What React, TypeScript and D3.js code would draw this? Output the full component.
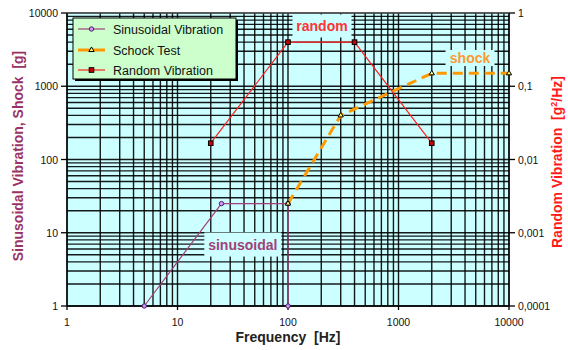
import { useRef, useEffect } from 'react';
import * as d3 from 'd3';

// Frequency [Hz] vs. amplitude
const sineFreq = [5, 25, 100, 100];
const sineG = [1, 25, 25, 1];

const shockFreq = [100, 300, 2000, 10000];
const shockG = [25, 400, 1500, 1500];

const randomFreq = [20, 100, 400, 2000];
const randomPsd = [0.0167, 0.4, 0.4, 0.0167];

const xTicks = [1, 10, 100, 1000, 10000];
const leftTicks = [1, 10, 100, 1000, 10000];
const rightTicks = [0.0001, 0.001, 0.01, 0.1, 1];
const rightTickLabels = ['0,0001', '0,001', '0,01', '0,1', '1'];

const legendNames = ['Sinusoidal Vibration', 'Schock Test', 'Random Vibration'];

const W = 568;
const H = 350;
const FONT = 'Arial, "Liberation Sans", Helvetica, sans-serif';

export default function App() {
  const svgRef = useRef<SVGSVGElement>(null);

  useEffect(() => {
    if (!svgRef.current) return;
    const svg = d3.select(svgRef.current);
    svg.selectAll('*').remove();

    const margin = { top: 13, right: 59, bottom: 44, left: 67 };
    const x = d3.scaleLog().domain([1, 10000]).range([margin.left, W - margin.right]);
    const yL = d3.scaleLog().domain([1, 10000]).range([H - margin.bottom, margin.top]);
    const yR = d3.scaleLog().domain([0.0001, 1]).range([H - margin.bottom, margin.top]);
    const [x0, x1] = x.range();
    const [y0, y1] = yL.range();

    // plot background
    svg.append('rect')
      .attr('x', x0).attr('y', y1)
      .attr('width', x1 - x0).attr('height', y0 - y1)
      .attr('fill', '#ccffff');

    // grid (log minor lines, all dark)
    const grid = svg.append('g')
      .attr('stroke', '#000')
      .attr('stroke-width', 1.4)
      .attr('stroke-opacity', 0.9);
    const minors: number[] = [];
    for (let d = 1; d < 10000; d *= 10) {
      for (let k = 1; k < 10; k++) minors.push(d * k);
    }
    minors.push(10000);
    minors.forEach(v => {
      grid.append('line')
        .attr('x1', x(v)).attr('x2', x(v))
        .attr('y1', y1).attr('y2', y0);
      grid.append('line')
        .attr('x1', x0).attr('x2', x1)
        .attr('y1', yL(v)).attr('y2', yL(v));
    });

    // annotation boxes
    const notes = [
      { text: 'random', freq: 203, g: 6650, w: 59, h: 23, color: '#ff3333' },
      { text: 'shock', freq: 4440, g: 2430, w: 49, h: 16, color: '#ff9933' },
      { text: 'sinusoidal', freq: 39, g: 6.9, w: 77, h: 24, color: '#a0407a' },
    ];
    notes.forEach(n => {
      const cx = x(n.freq);
      const cy = yL(n.g);
      svg.append('rect')
        .attr('x', cx - n.w / 2).attr('y', cy - n.h / 2)
        .attr('width', n.w).attr('height', n.h)
        .attr('fill', '#ccffff');
      svg.append('text')
        .attr('x', cx).attr('y', cy + 5)
        .attr('text-anchor', 'middle')
        .style('font', `bold 14px ${FONT}`)
        .attr('fill', n.color)
        .text(n.text);
    });

    // axes
    const axisColor = '#000';
    svg.append('line')
      .attr('x1', x0).attr('x2', x0).attr('y1', y1).attr('y2', y0)
      .attr('stroke', axisColor).attr('stroke-width', 1.3);
    svg.append('line')
      .attr('x1', x1).attr('x2', x1).attr('y1', y1).attr('y2', y0)
      .attr('stroke', axisColor).attr('stroke-width', 1.3);
    svg.append('line')
      .attr('x1', x0).attr('x2', x1).attr('y1', y0).attr('y2', y0)
      .attr('stroke', axisColor).attr('stroke-width', 1.3);
    svg.append('line')
      .attr('x1', x0).attr('x2', x1).attr('y1', y1).attr('y2', y1)
      .attr('stroke', '#666').attr('stroke-width', 1);

    const tickFont = `10.5px ${FONT}`;
    xTicks.forEach(v => {
      svg.append('line')
        .attr('x1', x(v)).attr('x2', x(v)).attr('y1', y0).attr('y2', y0 + 4)
        .attr('stroke', axisColor).attr('stroke-width', 1.3);
      svg.append('text')
        .attr('x', x(v)).attr('y', y0 + 20)
        .attr('text-anchor', 'middle')
        .style('font', tickFont).attr('fill', '#111')
        .text(String(v));
    });
    leftTicks.forEach(v => {
      svg.append('line')
        .attr('x1', x0 - 6).attr('x2', x0).attr('y1', yL(v)).attr('y2', yL(v))
        .attr('stroke', axisColor).attr('stroke-width', 1.3);
      svg.append('text')
        .attr('x', x0 - 9).attr('y', yL(v) + 4)
        .attr('text-anchor', 'end')
        .style('font', tickFont).attr('fill', '#111')
        .text(String(v));
    });
    rightTicks.forEach((v, i) => {
      svg.append('line')
        .attr('x1', x1).attr('x2', x1 + 6).attr('y1', yR(v)).attr('y2', yR(v))
        .attr('stroke', axisColor).attr('stroke-width', 1.3);
      svg.append('text')
        .attr('x', x1 + 9).attr('y', yR(v) + 4)
        .attr('text-anchor', 'start')
        .style('font', tickFont).attr('fill', '#111')
        .text(rightTickLabels[i]);
    });

    // axis titles
    svg.append('text')
      .attr('x', (x0 + x1) / 2).attr('y', 342)
      .attr('text-anchor', 'middle')
      .style('font', `bold 14px ${FONT}`).attr('fill', '#222')
      .attr('xml:space', 'preserve')
      .text('Frequency  [Hz]');
    svg.append('text')
      .attr('transform', `translate(23,156) rotate(-90)`)
      .attr('text-anchor', 'middle')
      .style('font', `bold 14px ${FONT}`).attr('fill', '#993366')
      .attr('xml:space', 'preserve')
      .text('Sinusoidal Vibration, Shock  [g]');
    const rt = svg.append('text')
      .attr('transform', `translate(562,162) rotate(-90)`)
      .attr('text-anchor', 'middle')
      .style('font', `bold 14px ${FONT}`).attr('fill', '#ff1a1a')
      .attr('xml:space', 'preserve');
    rt.append('tspan').text('Random Vibration  [g');
    rt.append('tspan').attr('dy', -5).style('font-size', '9px').text('2');
    rt.append('tspan').attr('dy', 5).text('/Hz]');

    // series
    const lineL = d3.line<[number, number]>().x(d => x(d[0])).y(d => yL(d[1]));
    const lineR = d3.line<[number, number]>().x(d => x(d[0])).y(d => yR(d[1]));
    const sinePts = sineFreq.map((f, i) => [f, sineG[i]] as [number, number]);
    const shockPts = shockFreq.map((f, i) => [f, shockG[i]] as [number, number]);
    const randomPts = randomFreq.map((f, i) => [f, randomPsd[i]] as [number, number]);

    svg.append('path')
      .attr('d', lineL(sinePts))
      .attr('fill', 'none').attr('stroke', '#a0407a').attr('stroke-width', 1.2);
    svg.append('path')
      .attr('d', lineR(randomPts))
      .attr('fill', 'none').attr('stroke', '#ff2020').attr('stroke-width', 1.2);
    svg.append('path')
      .attr('d', lineL(shockPts))
      .attr('fill', 'none').attr('stroke', '#ff9900').attr('stroke-width', 3)
      .attr('stroke-dasharray', '10,6');

    const circle = (g: any, cx: number, cy: number) =>
      g.append('circle').attr('cx', cx).attr('cy', cy).attr('r', 2.2)
        .attr('fill', '#cc99ff').attr('stroke', '#4b2060').attr('stroke-width', 1);
    const square = (g: any, cx: number, cy: number) =>
      g.append('rect').attr('x', cx - 2.3).attr('y', cy - 2.3).attr('width', 4.6).attr('height', 4.6)
        .attr('fill', '#cc0000').attr('stroke', '#000').attr('stroke-width', 1);
    const triangle = (g: any, cx: number, cy: number) =>
      g.append('path')
        .attr('d', d3.symbol().type(d3.symbolTriangle).size(12)())
        .attr('transform', `translate(${cx},${cy})`)
        .attr('fill', '#ffff66').attr('stroke', '#000').attr('stroke-width', 1);

    sinePts.forEach(p => circle(svg, x(p[0]), yL(p[1])));
    randomPts.forEach(p => square(svg, x(p[0]), yR(p[1])));
    shockPts.forEach(p => triangle(svg, x(p[0]), yL(p[1])));

    // legend
    const lg = svg.append('g');
    const lx = 73, ly = 18, lw = 163, lh = 61;
    lg.append('rect')
      .attr('x', lx + 2).attr('y', ly + 2).attr('width', lw).attr('height', lh)
      .attr('fill', '#000');
    lg.append('rect')
      .attr('x', lx).attr('y', ly).attr('width', lw).attr('height', lh)
      .attr('fill', '#ccffcc').attr('stroke', '#000').attr('stroke-width', 1);
    const rowY = [29, 50, 70];
    const styles = [
      { color: '#a0407a', width: 1.2, marker: circle },
      { color: '#ff9900', width: 3, marker: triangle },
      { color: '#ff2020', width: 1.2, marker: square },
    ];
    legendNames.forEach((name, i) => {
      const s = styles[i];
      lg.append('line')
        .attr('x1', 78).attr('x2', 105).attr('y1', rowY[i]).attr('y2', rowY[i])
        .attr('stroke', s.color).attr('stroke-width', s.width);
      s.marker(lg, 91.5, rowY[i]);
      lg.append('text')
        .attr('x', 113).attr('y', rowY[i] + 4.5)
        .style('font', `12.5px ${FONT}`).attr('fill', '#111')
        .text(name);
    });
  }, []);

  return (
    <div style={{ position: 'absolute', left: 0, top: 0, width: W, height: H, background: '#fff' }}>
      <svg ref={svgRef} width={W} height={H} />
    </div>
  );
}
